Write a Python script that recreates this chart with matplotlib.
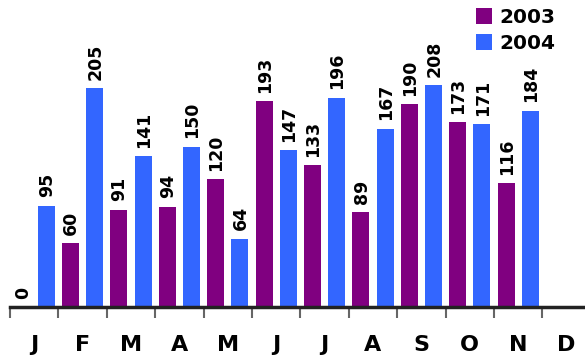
import numpy as np
import matplotlib.pyplot as plt
from matplotlib.patches import Patch

months = ['J', 'F', 'M', 'A', 'M', 'J', 'J', 'A', 'S', 'O', 'N', 'D']
# D has no data yet
sales_2003 = [0, 60, 91, 94, 120, 193, 133, 89, 190, 173, 116, np.nan]
sales_2004 = [95, 205, 141, 150, 64, 147, 196, 167, 208, 171, 184, np.nan]

c2003 = '#800080'
c2004 = '#3366ff'

fig = plt.figure(figsize=(5.85, 3.56), dpi=100)
ax = fig.add_axes([10/585, 49/356, 575/585, 307/356])

x = np.arange(len(months))
off = 0.25
w = 0.35

b1 = ax.bar(x - off, sales_2003, w, color=c2003, edgecolor='none')
b2 = ax.bar(x + off, sales_2004, w, color=c2004, edgecolor='none')

for xs, vals in [(x - off, sales_2003), (x + off, sales_2004)]:
    for xi, v in zip(xs, vals):
        if np.isnan(v):
            continue
        ax.annotate('%d' % v, (xi, v), xytext=(0.5, 6), textcoords='offset points',
                    rotation=90, ha='center', va='bottom',
                    fontsize=12.5, fontweight='bold', color='black')

ax.set_xlim(-0.5, 11.38)
ax.set_ylim(0, 287.5)

for s in ['top', 'right', 'left']:
    ax.spines[s].set_visible(False)
ax.spines['bottom'].set_linewidth(2.5)
ax.spines['bottom'].set_color('#222222')
ax.set_yticks([])

ax.set_xticks(np.arange(-0.5, 11, 1))
ax.set_xticklabels([])
ax.tick_params(axis='x', which='major', direction='out', length=8, width=1.5, color='#666666')
ax.set_xticks(x, months, minor=True)
ax.tick_params(axis='x', which='minor', length=0, pad=20, labelsize=16)
for t in ax.get_xticklabels(minor=True):
    t.set_fontweight('bold')

handles = [Patch(facecolor=c2003, edgecolor='none'), Patch(facecolor=c2004, edgecolor='none')]
fig.legend(handles, ['2003', '2004'], loc='upper left', bbox_to_anchor=(476/585, 1 - 8/356),
           frameon=False, prop={'size': 14.5, 'weight': 'bold'},
           handlelength=0.8, handleheight=0.8, handletextpad=0.35,
           labelspacing=0.35, borderpad=0, borderaxespad=0)

plt.savefig('out.png', dpi=100)
